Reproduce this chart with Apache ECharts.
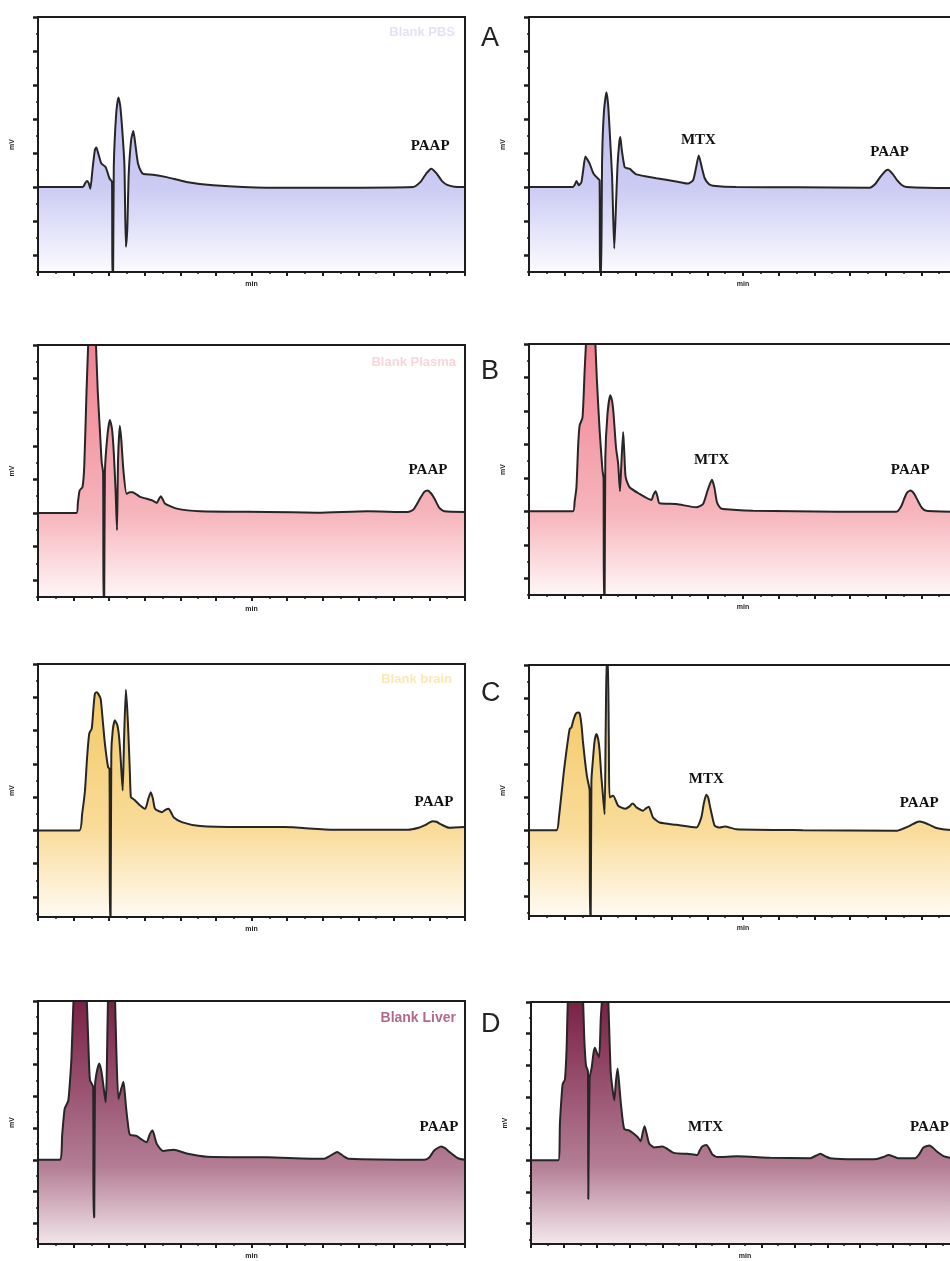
<!DOCTYPE html>
<html>
<head>
<meta charset="utf-8">
<script src="https://cdn.jsdelivr.net/npm/echarts@6/dist/echarts.min.js"></script>
<style>
html,body{margin:0;padding:0;background:#fff;overflow:hidden;}
#chart{width:962px;height:1261px;}
</style>
</head>
<body>
<div id="chart"></div>
<script>
// ---------- DATA (retention time in min, signal in major-tick units, baseline = 0) ----------
const pbsBlank = [[0,0],[1.26,0],[1.33,0.12],[1.38,0.18],[1.43,0.1],[1.47,-0.05],[1.54,0.6],[1.6,1.1],[1.64,1.16],[1.69,1.0],[1.78,0.69],[1.9,0.59],[2.01,0.25],[2.08,0.15],[2.09,-2.7],[2.11,-2.7],[2.13,0.6],[2.2,2.2],[2.26,2.63],[2.31,2.4],[2.38,1.5],[2.43,0.6],[2.47,-1.76],[2.51,-1.2],[2.55,0.4],[2.62,1.4],[2.68,1.65],[2.73,1.3],[2.81,0.69],[2.9,0.45],[2.97,0.38],[3.23,0.36],[3.61,0.29],[4.17,0.15],[4.92,0.05],[6.42,-0.02],[8.29,-0.02],[10.54,0],[10.75,0.15],[10.9,0.38],[11.05,0.54],[11.2,0.4],[11.35,0.18],[11.5,0.06],[11.7,0.01],[12,0]];
const pbsSpiked = [[0,0],[1.23,0],[1.29,0.08],[1.33,0.18],[1.37,0.1],[1.4,0.05],[1.47,0.15],[1.52,0.5],[1.58,0.9],[1.63,0.82],[1.7,0.69],[1.81,0.39],[1.93,0.25],[1.98,0.2],[1.99,-2.7],[2.02,-2.7],[2.05,0.8],[2.1,2.2],[2.17,2.79],[2.22,2.4],[2.28,1.3],[2.33,0.3],[2.39,-1.81],[2.43,-0.8],[2.48,0.6],[2.53,1.3],[2.56,1.47],[2.6,1.1],[2.68,0.59],[2.75,0.55],[2.82,0.54],[3.01,0.37],[3.57,0.26],[4.2,0.15],[4.46,0.1],[4.6,0.2],[4.68,0.55],[4.76,0.93],[4.84,0.6],[4.93,0.25],[5.05,0.08],[5.16,0.04],[5.81,0],[7.5,-0.01],[9.55,-0.02],[9.7,0.08],[9.85,0.3],[10.0,0.48],[10.07,0.51],[10.2,0.38],[10.32,0.2],[10.45,0.06],[10.58,0],[11.79,-0.03],[12,-0.03]];
const plasmaBlank = [[0,0],[1.08,0],[1.12,0.3],[1.17,0.67],[1.25,0.77],[1.3,1.4],[1.36,3.5],[1.42,5.3],[1.52,8],[1.62,5.3],[1.68,3.6],[1.74,2.46],[1.79,1.51],[1.83,1.2],[1.84,-2.7],[1.86,-2.7],[1.88,1.2],[1.95,2.3],[2.02,2.77],[2.08,2.5],[2.13,1.8],[2.18,0.67],[2.22,-0.51],[2.25,1.6],[2.3,2.6],[2.34,2.2],[2.4,1.27],[2.49,0.57],[2.58,0.62],[2.66,0.62],[2.87,0.48],[3.2,0.38],[3.34,0.3],[3.4,0.42],[3.45,0.5],[3.51,0.4],[3.57,0.28],[3.9,0.13],[4.56,0.05],[6.44,0.03],[7.85,0.01],[9.26,0.05],[10.39,0.03],[10.55,0.1],[10.71,0.38],[10.85,0.62],[10.95,0.67],[11.05,0.58],[11.14,0.43],[11.28,0.15],[11.42,0.05],[12,0.03]];
const plasmaSpiked = [[0,0],[1.23,0],[1.28,0.3],[1.33,0.72],[1.38,2.0],[1.42,2.57],[1.5,2.8],[1.56,4.2],[1.61,5.3],[1.72,8],[1.85,5.3],[1.9,4.0],[1.98,2.42],[2.06,1.22],[2.09,1.0],[2.1,-2.7],[2.12,-2.7],[2.14,1.6],[2.2,2.9],[2.28,3.47],[2.33,3.3],[2.37,2.92],[2.44,1.9],[2.5,1.42],[2.55,0.6],[2.58,1.2],[2.64,2.37],[2.67,1.8],[2.71,1.02],[2.82,0.72],[3.1,0.52],[3.43,0.34],[3.49,0.5],[3.55,0.6],[3.6,0.45],[3.66,0.24],[4.13,0.22],[4.69,0.12],[4.88,0.22],[5.0,0.6],[5.13,0.94],[5.2,0.7],[5.27,0.27],[5.35,0.12],[5.44,0.07],[6.28,0.02],[8.62,-0.01],[10.3,-0.01],[10.42,0.12],[10.53,0.4],[10.6,0.56],[10.7,0.62],[10.8,0.52],[10.91,0.3],[11.02,0.1],[11.14,0.02],[12,-0.01]];
const brainBlank = [[0,0],[1.16,0],[1.24,0.5],[1.32,1.2],[1.38,2.2],[1.44,2.91],[1.51,3.06],[1.56,3.7],[1.6,4.11],[1.65,4.15],[1.69,4.11],[1.76,3.96],[1.82,3.3],[1.88,2.61],[1.97,1.9],[2.01,1.85],[2.02,-2.7],[2.04,-2.7],[2.06,2.3],[2.1,3.0],[2.16,3.31],[2.23,3.16],[2.28,2.8],[2.32,2.21],[2.38,1.2],[2.42,2.8],[2.47,4.23],[2.51,3.6],[2.54,2.91],[2.58,1.8],[2.61,1.0],[2.67,0.95],[2.73,0.9],[2.87,0.75],[3.01,0.65],[3.1,0.95],[3.17,1.15],[3.23,0.95],[3.29,0.65],[3.48,0.55],[3.58,0.62],[3.67,0.65],[3.75,0.52],[3.81,0.4],[4.04,0.25],[4.56,0.13],[5.69,0.1],[6.91,0.1],[8.32,0.02],[10.39,0.02],[10.7,0.08],[10.86,0.15],[11.09,0.28],[11.2,0.26],[11.33,0.18],[11.56,0.08],[12,0.1]];
const brainSpiked = [[0,0],[0.77,0],[0.84,0.4],[0.91,1.09],[0.98,1.8],[1.05,2.4],[1.14,3.06],[1.19,3.11],[1.25,3.35],[1.31,3.52],[1.37,3.56],[1.42,3.54],[1.47,3.2],[1.51,2.71],[1.57,2.1],[1.63,1.6],[1.7,1.2],[1.71,-2.7],[1.73,-2.7],[1.75,1.5],[1.79,2.1],[1.84,2.7],[1.89,2.91],[1.94,2.75],[1.98,2.4],[2.03,1.6],[2.07,1.09],[2.12,0.48],[2.15,3],[2.18,5.3],[2.21,5.3],[2.24,2.5],[2.26,0.99],[2.36,1.04],[2.5,0.74],[2.7,0.65],[2.82,0.72],[2.9,0.81],[2.96,0.76],[3.01,0.69],[3.2,0.59],[3.28,0.66],[3.36,0.71],[3.42,0.55],[3.48,0.38],[3.66,0.23],[4.13,0.16],[4.69,0.08],[4.83,0.38],[4.9,0.8],[4.97,1.07],[5.02,1.0],[5.08,0.69],[5.15,0.35],[5.21,0.13],[5.35,0.08],[5.49,0.11],[5.81,0.03],[7.68,0],[10.3,-0.02],[10.5,0.05],[10.67,0.13],[10.85,0.23],[10.95,0.26],[11.05,0.24],[11.23,0.16],[11.4,0.07],[11.6,0.03],[12,0]];
const liverBlank = [[0,0],[0.61,0],[0.68,0.8],[0.75,1.61],[0.85,1.86],[0.9,2.5],[0.94,3.21],[1.01,5.3],[1.2,8],[1.36,5.3],[1.42,3.5],[1.46,2.51],[1.55,2.3],[1.56,-1.81],[1.58,-1.81],[1.6,2.3],[1.64,2.7],[1.72,3.03],[1.78,2.8],[1.83,2.41],[1.9,1.81],[1.93,2.6],[1.97,5.3],[2.07,8],[2.16,5.3],[2.2,3.5],[2.26,1.91],[2.33,2.2],[2.4,2.46],[2.44,2.1],[2.47,1.71],[2.52,1.2],[2.58,0.8],[2.77,0.75],[2.9,0.65],[3.05,0.55],[3.14,0.8],[3.22,0.92],[3.28,0.72],[3.34,0.5],[3.52,0.28],[3.81,0.32],[4.18,0.2],[4.75,0.1],[6.44,0.08],[8.04,0.03],[8.2,0.12],[8.41,0.25],[8.58,0.12],[8.74,0.03],[10.86,0],[11.0,0.08],[11.14,0.3],[11.33,0.42],[11.45,0.36],[11.56,0.25],[11.8,0.05],[12,0]];
const liverSpiked = [[0,0],[0.83,0],[0.88,1.2],[0.96,2.4],[1.03,2.55],[1.08,3.5],[1.13,5.3],[1.35,8],[1.57,5.3],[1.62,3.8],[1.67,3.0],[1.73,2.8],[1.74,-1.23],[1.76,-1.23],[1.78,2.6],[1.84,2.9],[1.9,3.4],[1.94,3.55],[2.0,3.4],[2.07,3.25],[2.12,4.5],[2.17,5.3],[2.25,8],[2.34,5.3],[2.38,4.0],[2.42,2.8],[2.47,2.3],[2.53,1.89],[2.58,2.5],[2.63,2.9],[2.68,2.4],[2.73,1.79],[2.83,0.99],[2.98,0.94],[3.23,0.74],[3.33,0.6],[3.4,0.9],[3.45,1.07],[3.52,0.8],[3.59,0.53],[3.74,0.4],[3.99,0.43],[4.34,0.23],[4.75,0.2],[5.05,0.16],[5.12,0.3],[5.2,0.43],[5.33,0.48],[5.42,0.35],[5.51,0.18],[5.66,0.1],[6.26,0.12],[7.27,0.08],[8.48,0.06],[8.65,0.14],[8.79,0.2],[8.95,0.12],[9.09,0.06],[9.8,0.03],[10.5,0.04],[10.7,0.1],[10.86,0.16],[11.0,0.12],[11.16,0.06],[11.66,0.06],[11.8,0.2],[11.92,0.4],[12.1,0.46],[12.2,0.4],[12.32,0.28],[12.53,0.13],[12.73,0.08],[13,0.06]];

const panelLetters = ['A', 'B', 'C', 'D'];
const sampleNames = ['Blank PBS', 'Blank Plasma', 'Blank brain', 'Blank Liver'];
const peakNames = ['PAAP', 'MTX'];
const yAxisName = 'mV';
const xAxisName = 'min';

// ---------- LAYOUT / STYLE ----------
const panels = [
  {data: pbsBlank,     g:{left:38, top:17,  width:427, height:255}, yMin:-2.5, xMax:12, theme:0, labels:[['PAAP',11.02,1.2]]},
  {data: pbsSpiked,    g:{left:529,top:17,  width:428, height:255}, yMin:-2.5, xMax:12, theme:0, labels:[['MTX',4.75,1.38],['PAAP',10.11,1.03]]},
  {data: plasmaBlank,  g:{left:38, top:345, width:427, height:252}, yMin:-2.5, xMax:12, theme:1, labels:[['PAAP',10.96,1.28]]},
  {data: plasmaSpiked, g:{left:529,top:344, width:428, height:251}, yMin:-2.5, xMax:12, theme:1, labels:[['MTX',5.12,1.53],['PAAP',10.69,1.23]]},
  {data: brainBlank,   g:{left:38, top:664, width:427, height:253}, yMin:-2.6, xMax:12, theme:2, labels:[['PAAP',11.13,0.84]]},
  {data: brainSpiked,  g:{left:529,top:665, width:428, height:251}, yMin:-2.6, xMax:12, theme:2, labels:[['MTX',4.97,1.55],['PAAP',10.94,0.82]]},
  {data: liverBlank,   g:{left:38, top:1001,width:427, height:254}, yMin:-2.65,xMax:12, theme:3, labels:[['PAAP',11.27,1.02]]},
  {data: liverSpiked,  g:{left:531,top:1002,width:428, height:251}, yMin:-2.65,xMax:13, theme:3, labels:[['MTX',5.3,1.03],['PAAP',12.1,1.03]]}
];
const themes = [
  {stops:['#b2b2ee','#cbcbf4','#fcfbff'], mark:'#e2e2f6'},
  {stops:['#f08292','#f6b4bb','#fff6f7'], mark:'#f9d5d9'},
  {stops:['#f3c65a','#f9dc9a','#fffbf3'], mark:'#fbe8b4'},
  {stops:['#7a2246','#b47e95','#fbf5f7'], mark:'#b3698a'}
];
const yMax = 5;
const ink = '#1c1c1c';

const grids = [], xAxes = [], yAxes = [], series = [];
panels.forEach((p, i) => {
  grids.push(Object.assign({show:true, borderColor:ink, borderWidth:2, backgroundColor:'transparent', z:10}, p.g));
  xAxes.push({
    type:'value', gridIndex:i, min:0, max:p.xMax, interval:1,
    axisLine:{show:true, onZero:false, lineStyle:{color:ink, width:2}},
    axisTick:{show:true, length:4, lineStyle:{color:ink, width:2}},
    minorTick:{show:true, splitNumber:2, length:2, lineStyle:{color:ink, width:1.5}},
    axisLabel:{show:false}, splitLine:{show:false},
    name:xAxisName, nameLocation:'middle', nameGap:9,
    nameTextStyle:{fontSize:7, fontWeight:'bold', color:ink, fontFamily:'Liberation Sans'},
    z:10
  });
  const majors = [], minors = [];
  for (let v = Math.ceil(p.yMin); v <= yMax; v++) majors.push(v);
  for (let v = Math.ceil(p.yMin - 0.5) + 0.5; v < yMax; v++) if (v >= p.yMin) minors.push(v);
  yAxes.push({
    type:'value', gridIndex:i, min:p.yMin, max:yMax,
    axisLine:{show:true, onZero:false, lineStyle:{color:ink, width:2}},
    axisTick:{show:true, customValues:majors, length:5, lineStyle:{color:ink, width:2.5}},
    axisLabel:{show:false}, splitLine:{show:false},
    name:yAxisName, nameLocation:'middle', nameGap:22, nameRotate:90,
    nameTextStyle:{fontSize:7, fontWeight:'bold', color:ink, fontFamily:'Liberation Sans'},
    z:10
  });
  yAxes.push({
    type:'value', gridIndex:i, min:p.yMin, max:yMax, position:'left',
    axisLine:{show:false},
    axisTick:{show:true, customValues:minors, length:2, lineStyle:{color:ink, width:1.5}},
    axisLabel:{show:false}, splitLine:{show:false}, z:10
  });
  const th = themes[p.theme];
  series.push({
    type:'line', xAxisIndex:i, yAxisIndex:2*i, data:p.data,
    showSymbol:false, smooth:0.2, clip:true,
    lineStyle:{color:'#262626', width:2},
    areaStyle:{origin:'start', opacity:1, color:{
      type:'linear', global:true, x:0, y:p.g.top, x2:0, y2:p.g.top + p.g.height,
      colorStops:[
        {offset:0, color:th.stops[0]},
        {offset:yMax/(yMax - p.yMin), color:th.stops[1]},
        {offset:1, color:th.stops[2]}
      ]}},
    markPoint:{
      symbol:'rect', symbolSize:1, silent:true, animation:false,
      itemStyle:{color:'rgba(0,0,0,0)'},
      label:{show:true, position:'inside', formatter:'{b}', fontFamily:'Liberation Serif', fontWeight:'bold', fontSize:15, color:'#111'},
      data:p.labels.map(l => ({name:l[0], coord:[l[1], l[2]]}))
    }
  });
});

const letterTops = [25, 358, 680, 1011];
const markRights = [455, 456, 452, 456];
const markTops = [26, 356, 673, 1011];
const markSizes = [13, 13, 13, 14];
const graphics = [];
panelLetters.forEach((t, k) => {
  graphics.push({type:'text', left:481, top:letterTops[k], z:20,
    style:{text:t, fontSize:27, fontFamily:'Liberation Sans', fill:'#222'}});
  graphics.push({type:'text', x:markRights[k], y:markTops[k], z:20,
    style:{text:sampleNames[k], textAlign:'right', textVerticalAlign:'top',
      font:'bold ' + markSizes[k] + 'px "Liberation Sans", Arial, sans-serif', fill:themes[k].mark}});
});

const chart = echarts.init(document.getElementById('chart'), null, {renderer:'canvas'});
chart.setOption({
  animation:false,
  backgroundColor:'#fff',
  grid:grids, xAxis:xAxes, yAxis:yAxes, series:series,
  graphic:graphics
});
</script>
</body>
</html>
